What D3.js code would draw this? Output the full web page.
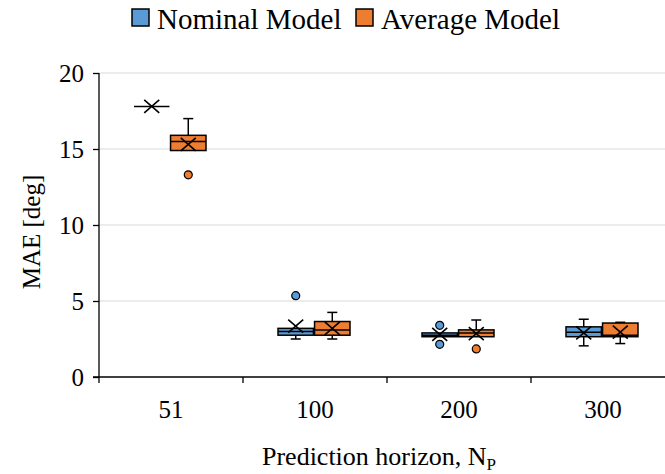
<!DOCTYPE html>
<html>
<head>
<meta charset="utf-8">
<script src="https://cdn.jsdelivr.net/npm/d3@7"></script>
<style>
  body { margin: 0; background: #fff; }
  text { font-family: "Liberation Serif", "Times New Roman", serif; }
</style>
</head>
<body>
<div id="chart"></div>
<script>
'use strict';

// prediction horizons
var categories = ["51", "100", "200", "300"];
var seriesNames = ["Nominal Model", "Average Model"];
var seriesColors = ["#5b9bd5", "#ed7d31"];
var yTicks = [0, 5, 10, 15, 20];

// [whisker low, q1, median, q3, whisker high, mean]
var nominalStats = [
  [17.8, 17.8, 17.8, 17.8, 17.8, 17.8],
  [2.5, 2.75, 3.0, 3.2, 3.2, 3.35],
  [2.65, 2.65, 2.75, 2.9, 2.9, 2.8],
  [2.05, 2.65, 2.95, 3.3, 3.8, 2.9]
];
var averageStats = [
  [14.9, 14.9, 15.5, 15.9, 17.0, 15.3],
  [2.5, 2.75, 3.1, 3.65, 4.25, 3.2],
  [2.65, 2.65, 2.9, 3.1, 3.75, 2.85],
  [2.2, 2.65, 2.75, 3.55, 3.6, 2.95]
];
var nominalOutliers = [[], [5.35], [3.4, 2.15], []];
var averageOutliers = [[13.3], [], [1.85], []];

var stats = [nominalStats, averageStats];
var outliers = [nominalOutliers, averageOutliers];

var width = 665, height = 474,
    margin = ({top: 73, right: -10, bottom: 97, left: 99});

var svg = d3.select("#chart").append("svg")
    .attr("width", width)
    .attr("height", height);

var x = d3.scaleBand()
    .domain(categories)
    .range([margin.left, width - margin.right]);

var xs = d3.scaleBand()
    .domain(d3.range(seriesNames.length))
    .range([-37, 35])
    .paddingInner(0.03);

var y = d3.scaleLinear()
    .domain([0, 20])
    .range([height - margin.bottom, margin.top]);

// gridlines
svg.append("g")
  .selectAll("line")
  .data(yTicks.filter(d => d > 0))
  .join("line")
    .attr("x1", margin.left)
    .attr("x2", width)
    .attr("y1", d => y(d))
    .attr("y2", d => y(d))
    .attr("stroke", "#d9d9d9")
    .attr("stroke-width", 1.2);

// y axis
var yAxis = svg.append("g")
    .attr("transform", "translate(" + margin.left + ",0)")
    .call(d3.axisLeft(y).tickValues(yTicks).tickSize(6).tickPadding(9));
yAxis.select(".domain").attr("stroke", "#000").attr("stroke-width", 1.3)
    .attr("d", "M0," + y(20) + "V" + (y(0) + 6));
yAxis.selectAll(".tick line").attr("stroke", "#000").attr("stroke-width", 1.3);
yAxis.selectAll(".tick text").attr("font-size", "25px").attr("fill", "#000")
    .attr("dy", "0.34em");

// x axis
var xAxis = svg.append("g")
    .attr("transform", "translate(0," + y(0) + ")");
xAxis.append("line")
    .attr("x1", margin.left - 6)
    .attr("x2", width)
    .attr("stroke", "#000")
    .attr("stroke-width", 1.3);
xAxis.selectAll(".sep")
  .data(categories.slice(1))
  .join("line")
    .attr("class", "sep")
    .attr("x1", d => x(d))
    .attr("x2", d => x(d))
    .attr("y1", 0)
    .attr("y2", 6)
    .attr("stroke", "#000")
    .attr("stroke-width", 1.3);
xAxis.selectAll(".lab")
  .data(categories)
  .join("text")
    .attr("class", "lab")
    .attr("x", d => x(d) + x.bandwidth() / 2)
    .attr("y", 41)
    .attr("text-anchor", "middle")
    .attr("font-size", "25px")
    .text(d => d);

// boxes
var boxes = [];
stats.forEach((s, si) => s.forEach((v, ci) => boxes.push({
  si: si, cat: categories[ci],
  lo: v[0], q1: v[1], med: v[2], q3: v[3], hi: v[4], mean: v[5],
  out: outliers[si][ci]
})));

var bw = xs.bandwidth();
var g = svg.append("g")
  .selectAll("g")
  .data(boxes)
  .join("g")
    .attr("transform", d => "translate(" + (x(d.cat) + x.bandwidth() / 2 + xs(d.si) + bw / 2) + ",0)");

var stroke = "#000", sw = 1.5, cap = 5;

// whiskers
g.append("line")
    .attr("x1", 0).attr("x2", 0)
    .attr("y1", d => y(d.q3)).attr("y2", d => y(d.hi))
    .attr("stroke", stroke).attr("stroke-width", sw);
g.append("line")
    .attr("x1", 0).attr("x2", 0)
    .attr("y1", d => y(d.q1)).attr("y2", d => y(d.lo))
    .attr("stroke", stroke).attr("stroke-width", sw);
g.filter(d => d.hi > d.q3).append("line")
    .attr("x1", -cap).attr("x2", cap)
    .attr("y1", d => y(d.hi)).attr("y2", d => y(d.hi))
    .attr("stroke", stroke).attr("stroke-width", sw);
g.filter(d => d.lo < d.q1).append("line")
    .attr("x1", -cap).attr("x2", cap)
    .attr("y1", d => y(d.lo)).attr("y2", d => y(d.lo))
    .attr("stroke", stroke).attr("stroke-width", sw);

// box
g.append("rect")
    .attr("x", -bw / 2)
    .attr("width", bw)
    .attr("y", d => y(d.q3))
    .attr("height", d => Math.max(0, y(d.q1) - y(d.q3)))
    .attr("fill", d => seriesColors[d.si])
    .attr("stroke", stroke)
    .attr("stroke-width", sw);
g.append("line")
    .attr("x1", -bw / 2).attr("x2", bw / 2)
    .attr("y1", d => y(d.med)).attr("y2", d => y(d.med))
    .attr("stroke", stroke).attr("stroke-width", sw);

// mean marker
g.append("path")
    .attr("d", d => {
      var cy = y(d.mean), a = 7.5, b = 6.5;
      return "M" + (-a) + "," + (cy - b) + "L" + a + "," + (cy + b) +
             "M" + (-a) + "," + (cy + b) + "L" + a + "," + (cy - b);
    })
    .attr("stroke", stroke)
    .attr("stroke-width", 1.6)
    .attr("fill", "none");

// outliers
g.selectAll("circle")
  .data(d => d.out.map(v => ({v: v, si: d.si})))
  .join("circle")
    .attr("cx", 0)
    .attr("cy", d => y(d.v))
    .attr("r", 4)
    .attr("fill", d => seriesColors[d.si])
    .attr("stroke", "#000")
    .attr("stroke-width", 1.2);

// axis titles
svg.append("text")
    .attr("transform", "translate(40,232) rotate(-90)")
    .attr("text-anchor", "middle")
    .attr("font-size", "25px")
    .text("MAE [deg]");

var xt = svg.append("text")
    .attr("x", 379)
    .attr("y", 465)
    .attr("text-anchor", "middle")
    .attr("font-size", "26px");
xt.append("tspan").text("Prediction horizon, N");
xt.append("tspan").attr("font-size", "17px").attr("dy", 5).text("P");

// legend
var legendX = [132, 356];
var leg = svg.append("g")
  .selectAll("g")
  .data(seriesNames)
  .join("g")
    .attr("transform", (d, i) => "translate(" + legendX[i] + ",9)");
leg.append("rect")
    .attr("width", 17)
    .attr("height", 17)
    .attr("fill", (d, i) => seriesColors[i])
    .attr("stroke", "#000")
    .attr("stroke-width", 1.5);
leg.append("text")
    .attr("x", 25)
    .attr("y", 20)
    .attr("font-size", "29px")
    .text(d => d);
</script>
</body>
</html>
